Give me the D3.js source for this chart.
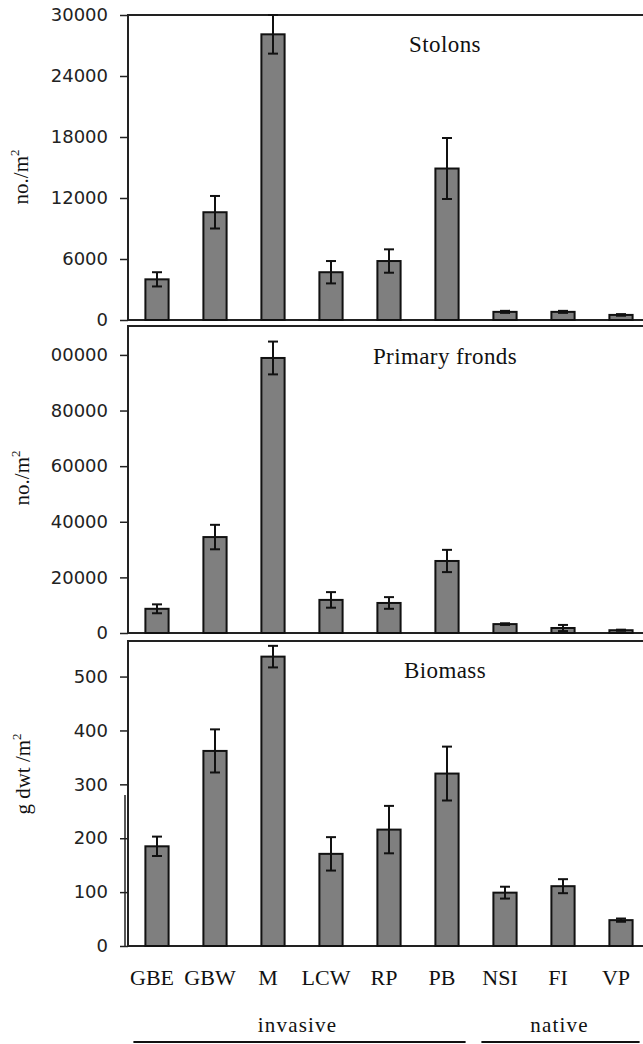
<!DOCTYPE html>
<html>
<head>
<meta charset="utf-8">
<script src="https://cdn.jsdelivr.net/npm/d3@7/dist/d3.min.js"></script>
<style>
  html, body { margin: 0; padding: 0; background: #fff; }
  svg { display: block; }
  .tick text { font-family: "DejaVu Sans", Verdana, sans-serif; font-size: 18px; fill: #222; }
  .serif { font-family: "Liberation Serif", "Times New Roman", serif; fill: #111; }
</style>
</head>
<body>
<svg id="chart" width="643" height="1044"></svg>
<script>
// Sites
const categories = ["GBE", "GBW", "M", "LCW", "RP", "PB", "NSI", "FI", "VP"];

// Stolon density (no./m2): mean and standard error
const stolonsMean = [4000, 10600, 28100, 4700, 5800, 14900, 800, 800, 500];
const stolonsErr  = [700, 1600, 1900, 1100, 1150, 3000, 100, 100, 80];
const stolonsTicks = [0, 6000, 12000, 18000, 24000, 30000];

// Primary frond density (no./m2)
const frondsMean = [8700, 34500, 98900, 11900, 10800, 25900, 3200, 1800, 1000];
const frondsErr  = [1600, 4400, 5900, 2800, 2100, 4000, 300, 1100, 200];
const frondsTicks = [0, 20000, 40000, 60000, 80000, 100000];

// Biomass (g dwt/m2)
const biomassMean = [185, 362, 537, 171, 216, 320, 99, 111, 48];
const biomassErr  = [18, 40, 20, 31, 44, 50, 11, 13, 3];
const biomassTicks = [0, 100, 200, 300, 400, 500];

// Site groups shown under the axis
const groupNames = ["invasive", "native"];
const groupMembers = [["GBE", "PB"], ["NSI", "VP"]];

const svg = d3.select("#chart");
const axisX = 128, plotRight = 650;

const x = d3.scaleBand()
  .domain(categories)
  .range([axisX, plotRight])
  .paddingInner(0.6)
  .paddingOuter(0.3);

// Clip for the tick labels (the leading digit of the widest label is cut off)
svg.append("defs").append("clipPath").attr("id", "labelClip")
  .append("rect").attr("x", 51).attr("y", 0).attr("width", 600).attr("height", 1044);

const panels = [
  { title: "Stolons", ylabel: ["no./m", "2"], mean: stolonsMean, err: stolonsErr, ticks: stolonsTicks,
    top: 15, bottom: 320, max: 30000, titleY: 52, ylabelY: 177, ylabelX: 28 },
  { title: "Primary fronds", ylabel: ["no./m", "2"], mean: frondsMean, err: frondsErr, ticks: frondsTicks,
    top: 326, bottom: 633, max: 110400, titleY: 364, ylabelY: 478, ylabelX: 29 },
  { title: "Biomass", ylabel: ["g dwt /m", "2"], mean: biomassMean, err: biomassErr, ticks: biomassTicks,
    top: 641, bottom: 946, max: 566, titleY: 678, ylabelY: 774, ylabelX: 30 }
];

panels.forEach((p, pi) => {
  const y = d3.scaleLinear().domain([0, p.max]).range([p.bottom, p.top]);
  const g = svg.append("g");

  // frame: top edge, left axis, baseline
  g.append("path")
    .attr("d", `M${plotRight},${p.top}H${axisX}V${p.bottom}H${plotRight}`)
    .attr("fill", "none").attr("stroke", "#222").attr("stroke-width", 2);

  // y axis ticks and labels
  const holder = g.append("g").attr("clip-path", "url(#labelClip)");
  const ax = holder.append("g")
    .attr("transform", `translate(${axisX},0)`)
    .call(d3.axisLeft(y).tickValues(p.ticks).tickSize(8).tickPadding(12).tickFormat(d3.format("d")));
  ax.select(".domain").remove();
  ax.selectAll(".tick line").attr("stroke", "#222").attr("stroke-width", 1.5);

  // bars
  g.selectAll("rect.bar")
    .data(categories)
    .join("rect")
    .attr("class", "bar")
    .attr("x", d => x(d))
    .attr("width", x.bandwidth())
    .attr("y", (d, i) => y(p.mean[i]))
    .attr("height", (d, i) => y(0) - y(p.mean[i]))
    .attr("fill", "#7f7f7f")
    .attr("stroke", "#111")
    .attr("stroke-width", 2);

  // error bars
  const cap = 5;
  const eb = g.selectAll("g.err")
    .data(categories)
    .join("g")
    .attr("class", "err")
    .attr("stroke", "#111")
    .attr("stroke-width", 2);
  eb.append("line")
    .attr("x1", d => x(d) + x.bandwidth() / 2)
    .attr("x2", d => x(d) + x.bandwidth() / 2)
    .attr("y1", (d, i) => y(p.mean[i] - p.err[i]))
    .attr("y2", (d, i) => y(Math.min(p.max, p.mean[i] + p.err[i])));
  eb.append("line")
    .attr("x1", d => x(d) + x.bandwidth() / 2 - cap)
    .attr("x2", d => x(d) + x.bandwidth() / 2 + cap)
    .attr("y1", (d, i) => y(Math.min(p.max, p.mean[i] + p.err[i])))
    .attr("y2", (d, i) => y(Math.min(p.max, p.mean[i] + p.err[i])));
  eb.append("line")
    .attr("x1", d => x(d) + x.bandwidth() / 2 - cap)
    .attr("x2", d => x(d) + x.bandwidth() / 2 + cap)
    .attr("y1", (d, i) => y(p.mean[i] - p.err[i]))
    .attr("y2", (d, i) => y(p.mean[i] - p.err[i]));

  // panel title
  g.append("text")
    .attr("class", "serif")
    .attr("x", 445).attr("y", p.titleY)
    .attr("text-anchor", "middle")
    .style("font-size", "23px")
    .style("letter-spacing", "0.4px")
    .text(p.title);

  // y axis title, rotated, with superscript
  const yt = g.append("text")
    .attr("class", "serif")
    .attr("transform", `translate(${p.ylabelX},${p.ylabelY}) rotate(-90)`)
    .attr("text-anchor", "middle")
    .style("font-size", "21px");
  yt.append("tspan").text(p.ylabel[0]);
  yt.append("tspan").attr("dy", -9).style("font-size", "13px").text(p.ylabel[1]);
});

// short heavy stroke along the lower part of the biomass axis
svg.append("line")
  .attr("x1", 125).attr("x2", 125).attr("y1", 795).attr("y2", 946)
  .attr("stroke", "#222").attr("stroke-width", 1.5);

// category labels
svg.append("g").selectAll("text")
  .data(categories)
  .join("text")
  .attr("class", "serif")
  .attr("x", d => x(d) + x.bandwidth() / 2 - 5)
  .attr("y", 985)
  .attr("text-anchor", "middle")
  .style("font-size", "22px")
  .text(d => d);

// group labels with underlines
groupNames.forEach((name, i) => {
  const [a, b] = groupMembers[i];
  const x0 = x(a) - 12, x1 = x(b) + x.bandwidth() + 7;
  svg.append("text")
    .attr("class", "serif")
    .attr("x", (x0 + x1) / 2 + (i === 0 ? -2 : -1))
    .attr("y", 1032)
    .attr("text-anchor", "middle")
    .style("font-size", "21px")
    .style("letter-spacing", "1.2px")
    .text(name);
  svg.append("line")
    .attr("x1", x0).attr("x2", x1)
    .attr("y1", 1042).attr("y2", 1042)
    .attr("stroke", "#111").attr("stroke-width", 2);
});
</script>
</body>
</html>
